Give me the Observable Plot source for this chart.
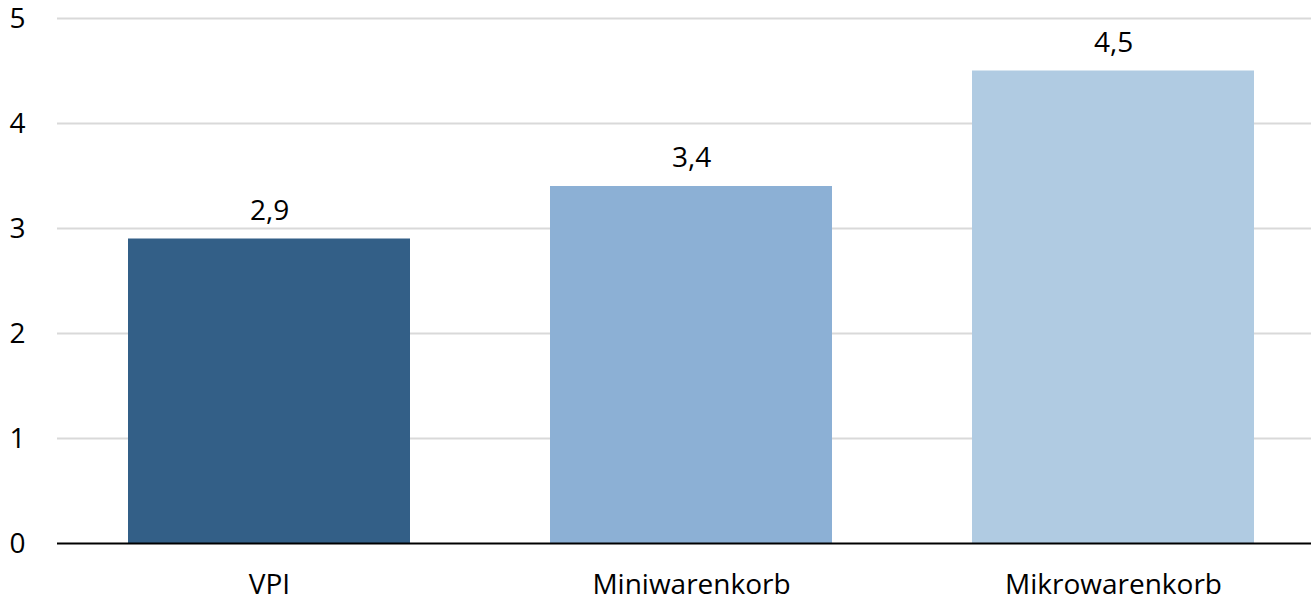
<!DOCTYPE html>
<html>
<head>
<meta charset="utf-8">
<script src="https://cdn.jsdelivr.net/npm/d3@7"></script>
<script src="https://cdn.jsdelivr.net/npm/@observablehq/plot@0.6"></script>
<style>
  html, body { margin: 0; padding: 0; background: #fff; }
  #chart svg { display: block; overflow: visible; }
</style>
</head>
<body>
<div id="chart"></div>
<script>
const categories = ["VPI", "Miniwarenkorb", "Mikrowarenkorb"];
const values = [2.9, 3.4, 4.5];
const colors = ["#335f87", "#8cb0d5", "#b0cbe2"];
const yTicks = [0, 1, 2, 3, 4, 5];

const data = categories.map((c, i) => ({ category: c, value: values[i] }));
const fmt = d => String(d).replace(".", ",");

const chart = Plot.plot({
  width: 1311,
  height: 600,
  marginLeft: 57,
  marginRight: 0,
  marginTop: 18,
  marginBottom: 57,
  style: { fontFamily: "'Open Sans', sans-serif", fontSize: "28px", color: "#000", background: "#fff" },
  x: { domain: categories, range: [57, 1324], paddingInner: 0.332, paddingOuter: 0.166, label: null },
  y: { domain: [0, 5], label: null },
  color: { domain: categories, range: colors },
  marks: [
    Plot.ruleY(yTicks.filter(d => d > 0), { stroke: "#d9d9d9", strokeWidth: 2 }),
    Plot.barY(data, { x: "category", y: "value", fill: "category" }),
    Plot.ruleY([0], { stroke: "#000", strokeWidth: 2 }),
    Plot.text(data, { x: "category", y: "value", text: d => fmt(d.value), dy: -28, fontSize: 28, fill: "#000", lineAnchor: "middle" }),
    Plot.axisY({ ticks: yTicks, tickSize: 0, tickPadding: 32, fontSize: 28, tickFormat: fmt, fill: "#000", dy: 1 }),
    Plot.axisX({ tickSize: 0, tickPadding: 31, fontSize: 28, fill: "#000" })
  ]
});
document.getElementById("chart").appendChild(chart);
</script>
</body>
</html>
